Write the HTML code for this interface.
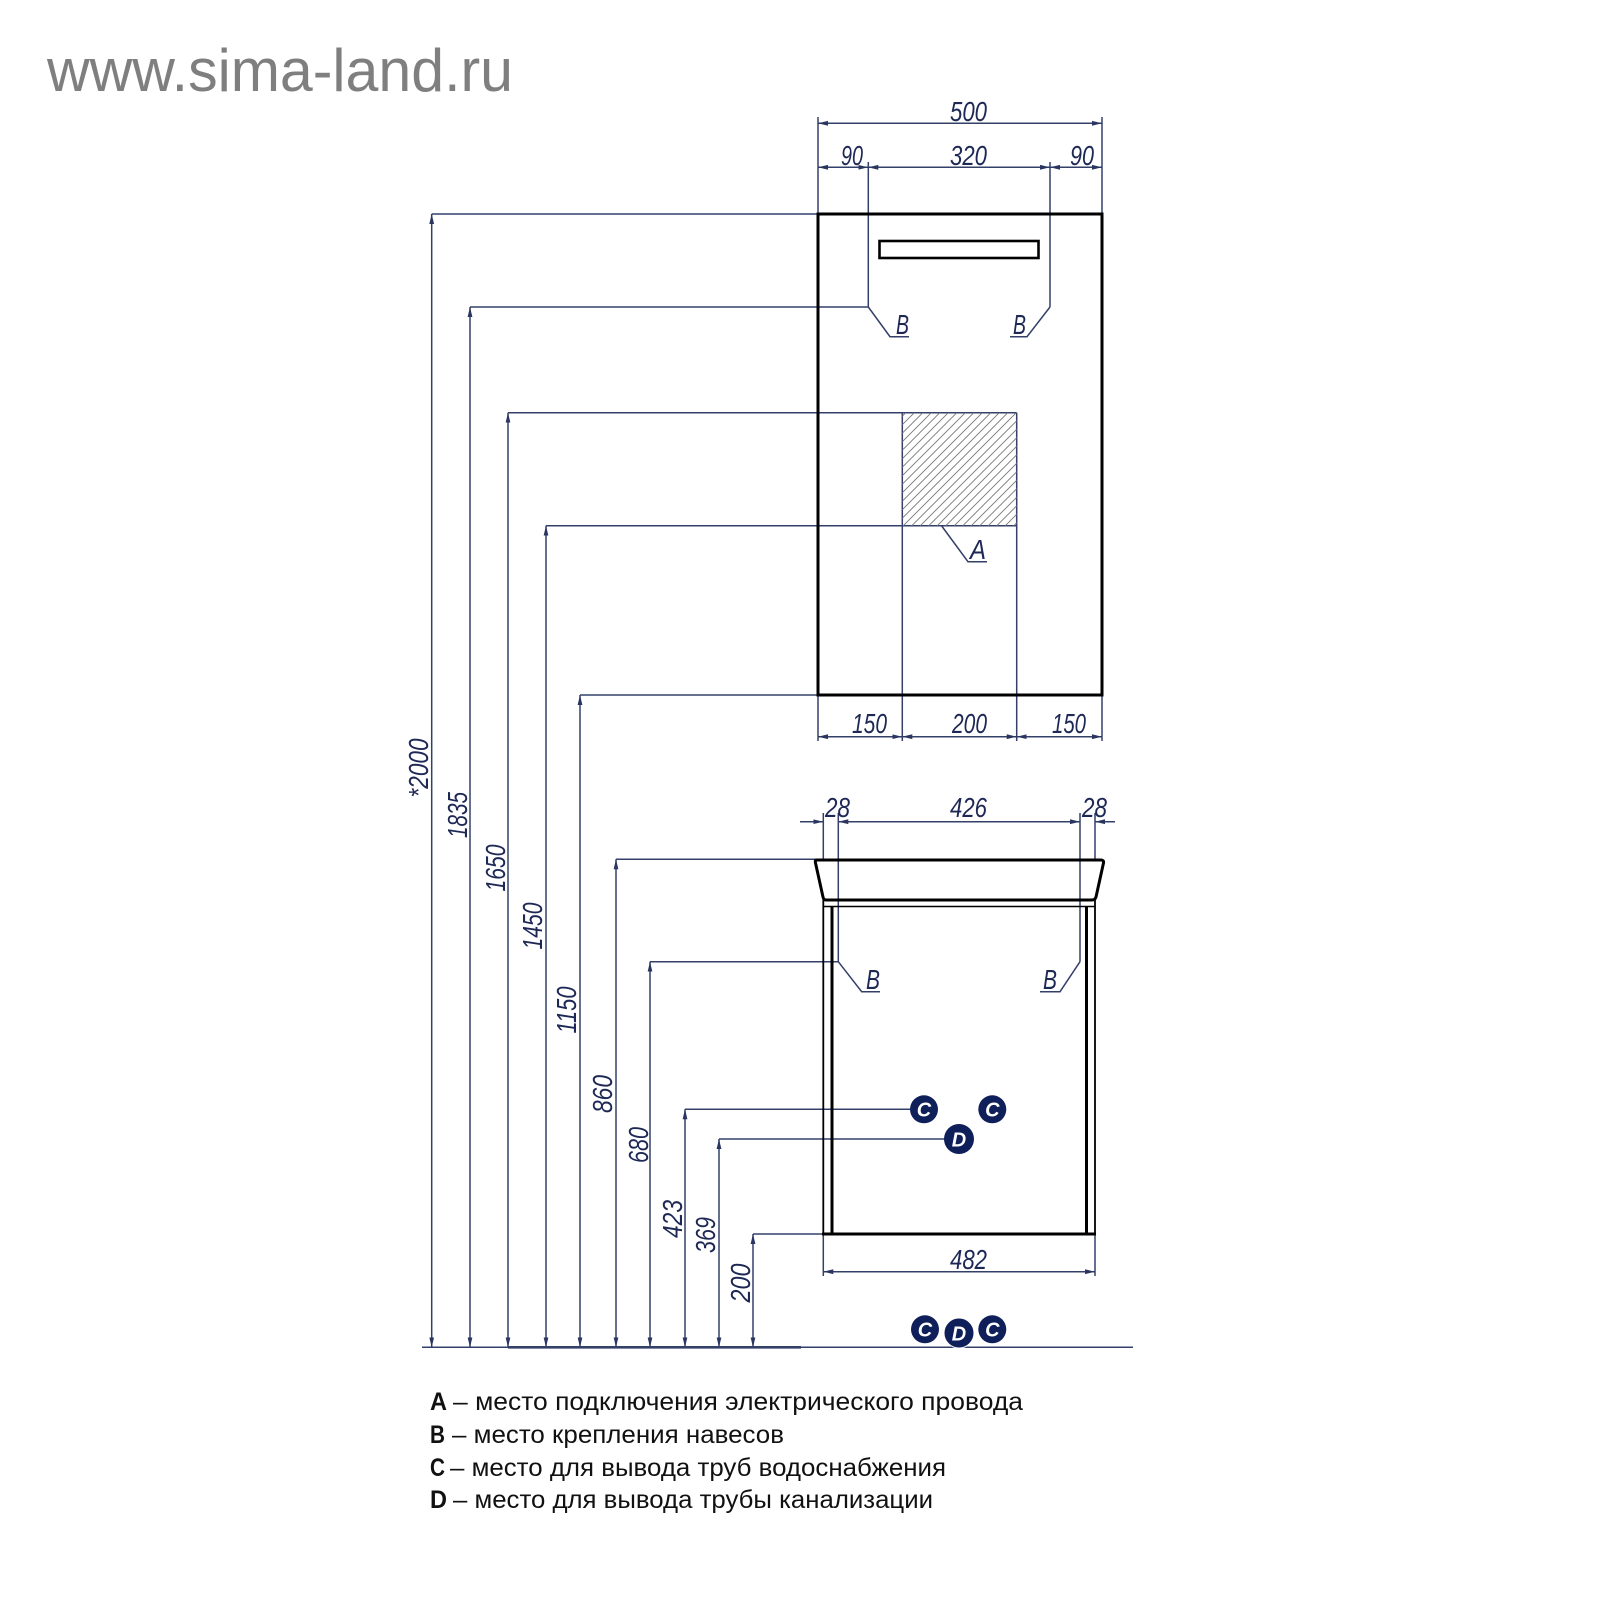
<!DOCTYPE html>
<html><head><meta charset="utf-8"><style>
html,body{margin:0;padding:0;background:#fff;}
svg{display:block;}
</style></head><body>
<svg width="1600" height="1600" viewBox="0 0 1600 1600" xmlns="http://www.w3.org/2000/svg">
<defs>
<marker id="ar" viewBox="0 0 10 6" refX="10" refY="3" markerWidth="10" markerHeight="6" markerUnits="userSpaceOnUse" orient="auto-start-reverse">
<path d="M0,0.6 L10,3 L0,5.4 z" fill="#2a3560"/>
</marker>
<clipPath id="hc"><rect x="902.3" y="412.7" width="114.4" height="113"/></clipPath>
</defs>
<rect width="1600" height="1600" fill="#fff"/>

<!-- title -->
<text x="47" y="91" font-family="Liberation Sans, Arial, sans-serif" font-size="60" fill="#7f7f7f" textLength="466" lengthAdjust="spacingAndGlyphs">www.sima-land.ru</text>

<g stroke="#34406a" stroke-width="1.5" fill="none">
<!-- top dims -->
<line x1="818" y1="117" x2="818" y2="214"/>
<line x1="1102" y1="117" x2="1102" y2="214"/>
<line x1="818" y1="123.3" x2="1102" y2="123.3" marker-start="url(#ar)" marker-end="url(#ar)"/>
<line x1="818" y1="167.3" x2="868.3" y2="167.3" marker-start="url(#ar)" marker-end="url(#ar)"/>
<line x1="868.3" y1="167.3" x2="1050" y2="167.3" marker-start="url(#ar)" marker-end="url(#ar)"/>
<line x1="1050" y1="167.3" x2="1102" y2="167.3" marker-start="url(#ar)" marker-end="url(#ar)"/>
<line x1="868.3" y1="162" x2="868.3" y2="307"/>
<line x1="1050" y1="162" x2="1050" y2="307"/>
<!-- B leaders top -->
<polyline points="868.3,307 890,336.7 909,336.7"/>
<polyline points="1050,307 1027,336.7 1010,336.7"/>
<!-- hatch rect edges -->
<line x1="902.3" y1="412.7" x2="902.3" y2="741"/>
<line x1="1016.7" y1="412.7" x2="1016.7" y2="741"/>
<!-- A leader -->
<polyline points="941.7,526 968,561.7 987,561.7"/>
<!-- bottom dims top cabinet -->
<line x1="818" y1="695" x2="818" y2="741"/>
<line x1="1102" y1="695" x2="1102" y2="741"/>
<line x1="818" y1="736.7" x2="902.3" y2="736.7" marker-start="url(#ar)" marker-end="url(#ar)"/>
<line x1="902.3" y1="736.7" x2="1016.7" y2="736.7" marker-start="url(#ar)" marker-end="url(#ar)"/>
<line x1="1016.7" y1="736.7" x2="1102" y2="736.7" marker-start="url(#ar)" marker-end="url(#ar)"/>

<!-- lower cabinet dims -->
<line x1="800" y1="821.7" x2="823.3" y2="821.7" marker-end="url(#ar)"/>
<line x1="838.3" y1="821.7" x2="1080" y2="821.7"/>
<line x1="860" y1="821.7" x2="838.3" y2="821.7" marker-end="url(#ar)"/>
<line x1="1058" y1="821.7" x2="1080" y2="821.7" marker-end="url(#ar)"/>
<line x1="1115" y1="821.7" x2="1095" y2="821.7" marker-end="url(#ar)"/>
<line x1="823.3" y1="813" x2="823.3" y2="860"/>
<line x1="1095" y1="813" x2="1095" y2="860"/>
<line x1="838.3" y1="813" x2="838.3" y2="961.7"/>
<line x1="1080" y1="813" x2="1080" y2="961.7"/>
<polyline points="838.3,961.7 861.7,991.7 880,991.7"/>
<polyline points="1080,961.7 1060,991.7 1040,991.7"/>
<!-- 482 -->
<line x1="823.3" y1="1234" x2="823.3" y2="1276"/>
<line x1="1095" y1="1234" x2="1095" y2="1276"/>
<line x1="823.3" y1="1271.7" x2="1095" y2="1271.7" marker-start="url(#ar)" marker-end="url(#ar)"/>

<!-- horizontal leaders to vertical dims -->
<line x1="431.7" y1="214" x2="818" y2="214"/>
<line x1="470" y1="307" x2="868.3" y2="307"/>
<line x1="508" y1="412.7" x2="1016.7" y2="412.7"/>
<line x1="546" y1="525.7" x2="1016.7" y2="525.7"/>
<line x1="580" y1="695" x2="818" y2="695"/>
<line x1="616" y1="859.3" x2="815" y2="859.3"/>
<line x1="650" y1="961.7" x2="838.3" y2="961.7"/>
<line x1="685" y1="1109.3" x2="910" y2="1109.3"/>
<line x1="719" y1="1139" x2="945" y2="1139"/>
<line x1="753" y1="1234" x2="823.3" y2="1234"/>

<!-- vertical dims -->
<line x1="431.7" y1="1347.3" x2="431.7" y2="214" marker-start="url(#ar)" marker-end="url(#ar)"/>
<line x1="470" y1="1347.3" x2="470" y2="307" marker-start="url(#ar)" marker-end="url(#ar)"/>
<line x1="508" y1="1347.3" x2="508" y2="412.7" marker-start="url(#ar)" marker-end="url(#ar)"/>
<line x1="546" y1="1347.3" x2="546" y2="525.7" marker-start="url(#ar)" marker-end="url(#ar)"/>
<line x1="580" y1="1347.3" x2="580" y2="695" marker-start="url(#ar)" marker-end="url(#ar)"/>
<line x1="616" y1="1347.3" x2="616" y2="859.3" marker-start="url(#ar)" marker-end="url(#ar)"/>
<line x1="650" y1="1347.3" x2="650" y2="961.7" marker-start="url(#ar)" marker-end="url(#ar)"/>
<line x1="685" y1="1347.3" x2="685" y2="1109.3" marker-start="url(#ar)" marker-end="url(#ar)"/>
<line x1="719" y1="1347.3" x2="719" y2="1139" marker-start="url(#ar)" marker-end="url(#ar)"/>
<line x1="753" y1="1347.3" x2="753" y2="1234" marker-start="url(#ar)" marker-end="url(#ar)"/>

<!-- ground -->
<line x1="422" y1="1347.3" x2="1133" y2="1347.3"/>
<line x1="508" y1="1347.3" x2="801" y2="1347.3" stroke-width="2.6"/>
</g>

<!-- hatch -->
<g clip-path="url(#hc)" stroke="#777" stroke-width="0.9">
<line x1="860" y1="535" x2="990" y2="405"/>
<line x1="868.5" y1="535" x2="998.5" y2="405"/>
<line x1="877" y1="535" x2="1007" y2="405"/>
<line x1="885.5" y1="535" x2="1015.5" y2="405"/>
<line x1="894" y1="535" x2="1024" y2="405"/>
<line x1="902.5" y1="535" x2="1032.5" y2="405"/>
<line x1="911" y1="535" x2="1041" y2="405"/>
<line x1="919.5" y1="535" x2="1049.5" y2="405"/>
<line x1="928" y1="535" x2="1058" y2="405"/>
<line x1="936.5" y1="535" x2="1066.5" y2="405"/>
<line x1="945" y1="535" x2="1075" y2="405"/>
<line x1="953.5" y1="535" x2="1083.5" y2="405"/>
<line x1="962" y1="535" x2="1092" y2="405"/>
<line x1="970.5" y1="535" x2="1100.5" y2="405"/>
<line x1="979" y1="535" x2="1109" y2="405"/>
<line x1="987.5" y1="535" x2="1117.5" y2="405"/>
<line x1="996" y1="535" x2="1126" y2="405"/>
<line x1="1004.5" y1="535" x2="1134.5" y2="405"/>
<line x1="1013" y1="535" x2="1143" y2="405"/>
<line x1="851.5" y1="535" x2="981.5" y2="405"/>
<line x1="843" y1="535" x2="973" y2="405"/>
<line x1="834.5" y1="535" x2="964.5" y2="405"/>
<line x1="826" y1="535" x2="956" y2="405"/>
<line x1="817.5" y1="535" x2="947.5" y2="405"/>
<line x1="809" y1="535" x2="939" y2="405"/>
<line x1="800.5" y1="535" x2="930.5" y2="405"/>
<line x1="792" y1="535" x2="922" y2="405"/>
<line x1="783.5" y1="535" x2="913.5" y2="405"/>
</g>

<!-- top cabinet (mirror) -->
<g fill="none" stroke="#000">
<rect x="818" y="214" width="284" height="481" stroke-width="3"/>
<rect x="879.5" y="241" width="159" height="17" stroke-width="2.6"/>
<!-- basin -->
<path d="M816,860 L1101,860 Q1104,860 1103.5,863 L1096,897 Q1095,900 1092,900 L826,900 Q823.5,900 823,897 L815.5,863 Q815,860 816,860 Z" stroke-width="3"/>
<line x1="823.3" y1="906.5" x2="1095" y2="906.5" stroke-width="1.6"/>
<line x1="823.3" y1="900" x2="823.3" y2="1234" stroke-width="1.8"/>
<line x1="832" y1="906" x2="832" y2="1234" stroke-width="3"/>
<line x1="1086.5" y1="906" x2="1086.5" y2="1234" stroke-width="3"/>
<line x1="1095" y1="900" x2="1095" y2="1234" stroke-width="1.8"/>
<line x1="822" y1="1234" x2="1096" y2="1234" stroke-width="3"/>
</g>

<!-- circles -->
<g fill="#0f1f5a">
<circle cx="924" cy="1109.3" r="14"/>
<circle cx="992.3" cy="1109.3" r="14"/>
<circle cx="959" cy="1139" r="15"/>
<circle cx="925" cy="1329.3" r="14"/>
<circle cx="992.3" cy="1329.3" r="14"/>
<circle cx="959" cy="1333" r="15" stroke="#fff" stroke-width="1"/>
</g>
<g font-family="Liberation Sans, Arial, sans-serif" font-style="italic" font-weight="bold" font-size="20" fill="#fff" text-anchor="middle">
<text x="924" y="1116.5">C</text>
<text x="992.3" y="1116.5">C</text>
<text x="959" y="1146.3">D</text>
<text x="925" y="1336.5">C</text>
<text x="992.3" y="1336.5">C</text>
<text x="959" y="1340.5">D</text>
</g>

<!-- dimension labels -->
<g font-family="Liberation Sans, Arial, sans-serif" font-style="italic" font-size="28" fill="#1e2855">
<text x="950" y="121" textLength="37" lengthAdjust="spacingAndGlyphs">500</text>
<text x="841" y="165" textLength="22" lengthAdjust="spacingAndGlyphs">90</text>
<text x="950" y="165" textLength="37" lengthAdjust="spacingAndGlyphs">320</text>
<text x="1070" y="165" textLength="24" lengthAdjust="spacingAndGlyphs">90</text>
<text x="852" y="733" textLength="35" lengthAdjust="spacingAndGlyphs">150</text>
<text x="952" y="733" textLength="35" lengthAdjust="spacingAndGlyphs">200</text>
<text x="1052" y="733" textLength="34" lengthAdjust="spacingAndGlyphs">150</text>
<text x="825" y="817" textLength="25" lengthAdjust="spacingAndGlyphs">28</text>
<text x="950" y="817" textLength="37" lengthAdjust="spacingAndGlyphs">426</text>
<text x="1082" y="817" textLength="25" lengthAdjust="spacingAndGlyphs">28</text>
<text x="950" y="1269" textLength="37" lengthAdjust="spacingAndGlyphs">482</text>

<text transform="translate(418,768) rotate(-90)" x="-29.5" y="10" textLength="59" lengthAdjust="spacingAndGlyphs">*2000</text>
<text transform="translate(457,815) rotate(-90)" x="-23" y="10" textLength="46" lengthAdjust="spacingAndGlyphs">1835</text>
<text transform="translate(495,868) rotate(-90)" x="-23.5" y="10" textLength="47" lengthAdjust="spacingAndGlyphs">1650</text>
<text transform="translate(532,926) rotate(-90)" x="-23.5" y="10" textLength="47" lengthAdjust="spacingAndGlyphs">1450</text>
<text transform="translate(566,1010) rotate(-90)" x="-23.5" y="10" textLength="47" lengthAdjust="spacingAndGlyphs">1150</text>
<text transform="translate(602,1094) rotate(-90)" x="-19" y="10" textLength="38" lengthAdjust="spacingAndGlyphs">860</text>
<text transform="translate(638,1145) rotate(-90)" x="-18" y="10" textLength="36" lengthAdjust="spacingAndGlyphs">680</text>
<text transform="translate(672,1219) rotate(-90)" x="-19" y="10" textLength="38" lengthAdjust="spacingAndGlyphs">423</text>
<text transform="translate(705,1235) rotate(-90)" x="-18" y="10" textLength="36" lengthAdjust="spacingAndGlyphs">369</text>
<text transform="translate(740,1283) rotate(-90)" x="-19.5" y="10" textLength="39" lengthAdjust="spacingAndGlyphs">200</text>
</g>

<!-- leader letters -->
<g font-family="Liberation Sans, Arial, sans-serif" font-style="italic" font-size="28" fill="#1e2855">
<text x="896" y="334" textLength="13" lengthAdjust="spacingAndGlyphs">B</text>
<text x="1013" y="334" textLength="13" lengthAdjust="spacingAndGlyphs">B</text>
<text x="970" y="559" textLength="16" lengthAdjust="spacingAndGlyphs">A</text>
<text x="866" y="989" textLength="14" lengthAdjust="spacingAndGlyphs">B</text>
<text x="1043" y="989" textLength="14" lengthAdjust="spacingAndGlyphs">B</text>
</g>

<!-- legend -->
<g font-family="Liberation Sans, Arial, sans-serif" font-size="25" fill="#111">
<text x="430" y="1410" font-weight="bold" textLength="17" lengthAdjust="spacingAndGlyphs">A</text>
<text x="453" y="1410" textLength="570" lengthAdjust="spacingAndGlyphs">– место подключения электрического провода</text>
<text x="430" y="1443" font-weight="bold" textLength="15" lengthAdjust="spacingAndGlyphs">B</text>
<text x="452" y="1443" textLength="332" lengthAdjust="spacingAndGlyphs">– место крепления навесов</text>
<text x="430" y="1476" font-weight="bold" textLength="15" lengthAdjust="spacingAndGlyphs">C</text>
<text x="450" y="1476" textLength="496" lengthAdjust="spacingAndGlyphs">– место для вывода труб водоснабжения</text>
<text x="430" y="1508" font-weight="bold" textLength="17" lengthAdjust="spacingAndGlyphs">D</text>
<text x="453" y="1508" textLength="480" lengthAdjust="spacingAndGlyphs">– место для вывода трубы канализации</text>
</g>
</svg>
</body></html>
